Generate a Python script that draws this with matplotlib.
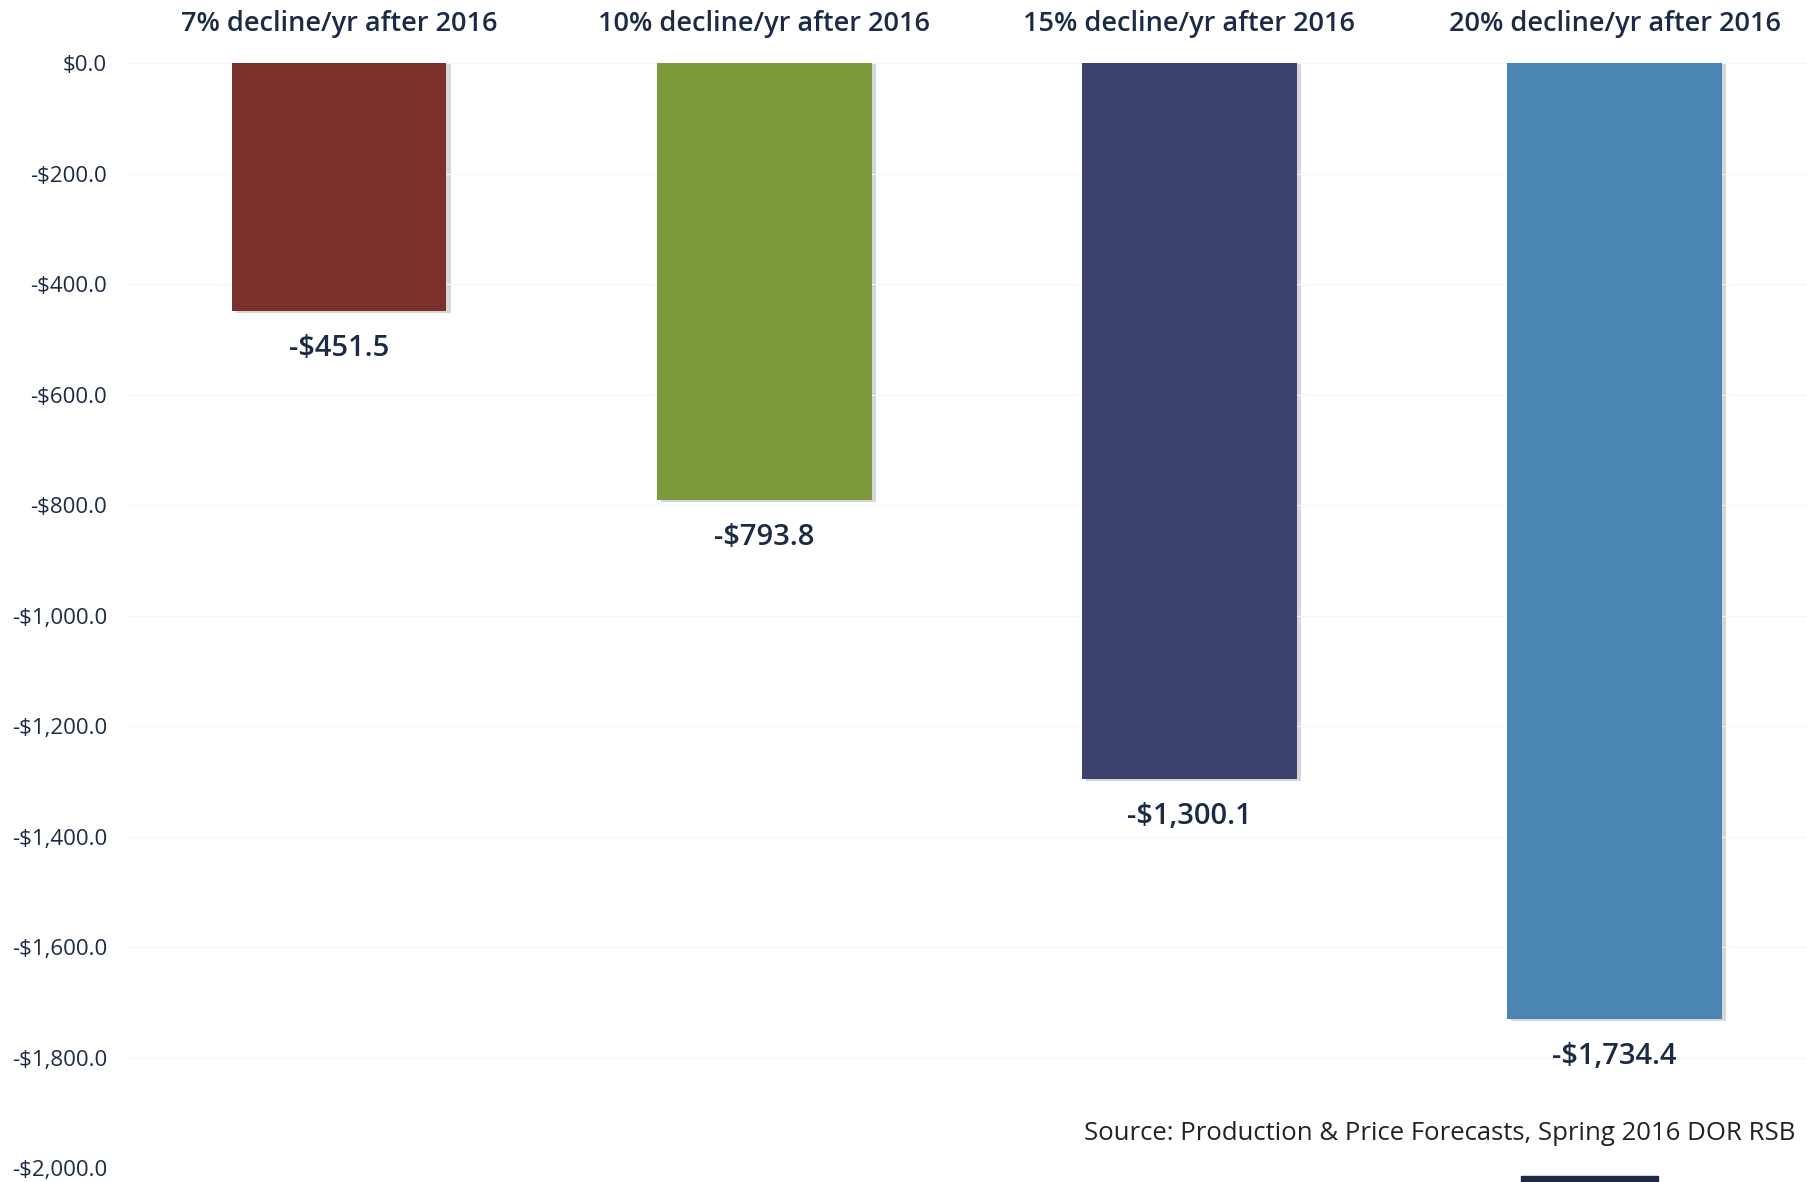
import numpy as np
import matplotlib
matplotlib.use('Agg')
from matplotlib import pyplot as plt
from matplotlib.patches import Rectangle

# scenario data
scenarios = ['7% decline/yr after 2016', '10% decline/yr after 2016',
             '15% decline/yr after 2016', '20% decline/yr after 2016']
values = [-451.5, -793.8, -1300.1, -1734.4]
colors = ['#7c302b', '#7c9a3b', '#3c406d', '#4b86b3']
yticks = np.arange(0, -2001, -200)

plt.rcParams['font.family'] = ['Open Sans', 'DejaVu Sans']
navy = '#1c2b45'

fig = plt.figure(figsize=(18.08, 11.82), dpi=100)
ax = fig.add_axes([0.07, 0.0118, 0.93, 0.9346])

x = np.arange(len(values))
# soft shadow under each bar
ax.bar(x + 0.01, values, width=0.505, color='#d6d6d6', zorder=1)
ax.bar(x, np.array(values) + 4, width=0.505, color=colors, zorder=2)

ax.set_xlim(-0.5, 3.455)
ax.set_ylim(-2000, 0)
ax.set_yticks(yticks)
ax.set_yticklabels([('-' if v < 0 else '') + '${:,.1f}'.format(abs(v)) for v in yticks],
                   fontsize=16, color=navy, fontweight='medium')
ax.tick_params(axis='y', length=0, pad=14)
ax.set_xticks([])
for s in ax.spines.values():
    s.set_visible(False)
ax.yaxis.grid(True, color='#f6f6f6', linewidth=0.8, zorder=0)

for i, (name, v) in enumerate(zip(scenarios, values)):
    ax.text(i, 1.036, name, transform=ax.get_xaxis_transform(), ha='center', va='center',
            fontsize=19.5, fontweight='semibold', color=navy)
    label = '-${:,.1f}'.format(abs(v))
    ax.text(i, v - 38, label, ha='center', va='top', fontsize=21,
            fontweight='semibold', color=navy)

fig.text(0.993, 0.041, 'Source: Production & Price Forecasts, Spring 2016 DOR RSB',
         ha='right', va='center', fontsize=18.5, color='#222222')
fig.patches.append(Rectangle((0.841, 0.0), 0.076, 0.005, transform=fig.transFigure,
                             color='#1e2a45'))

fig.savefig('out.png', dpi=100)
